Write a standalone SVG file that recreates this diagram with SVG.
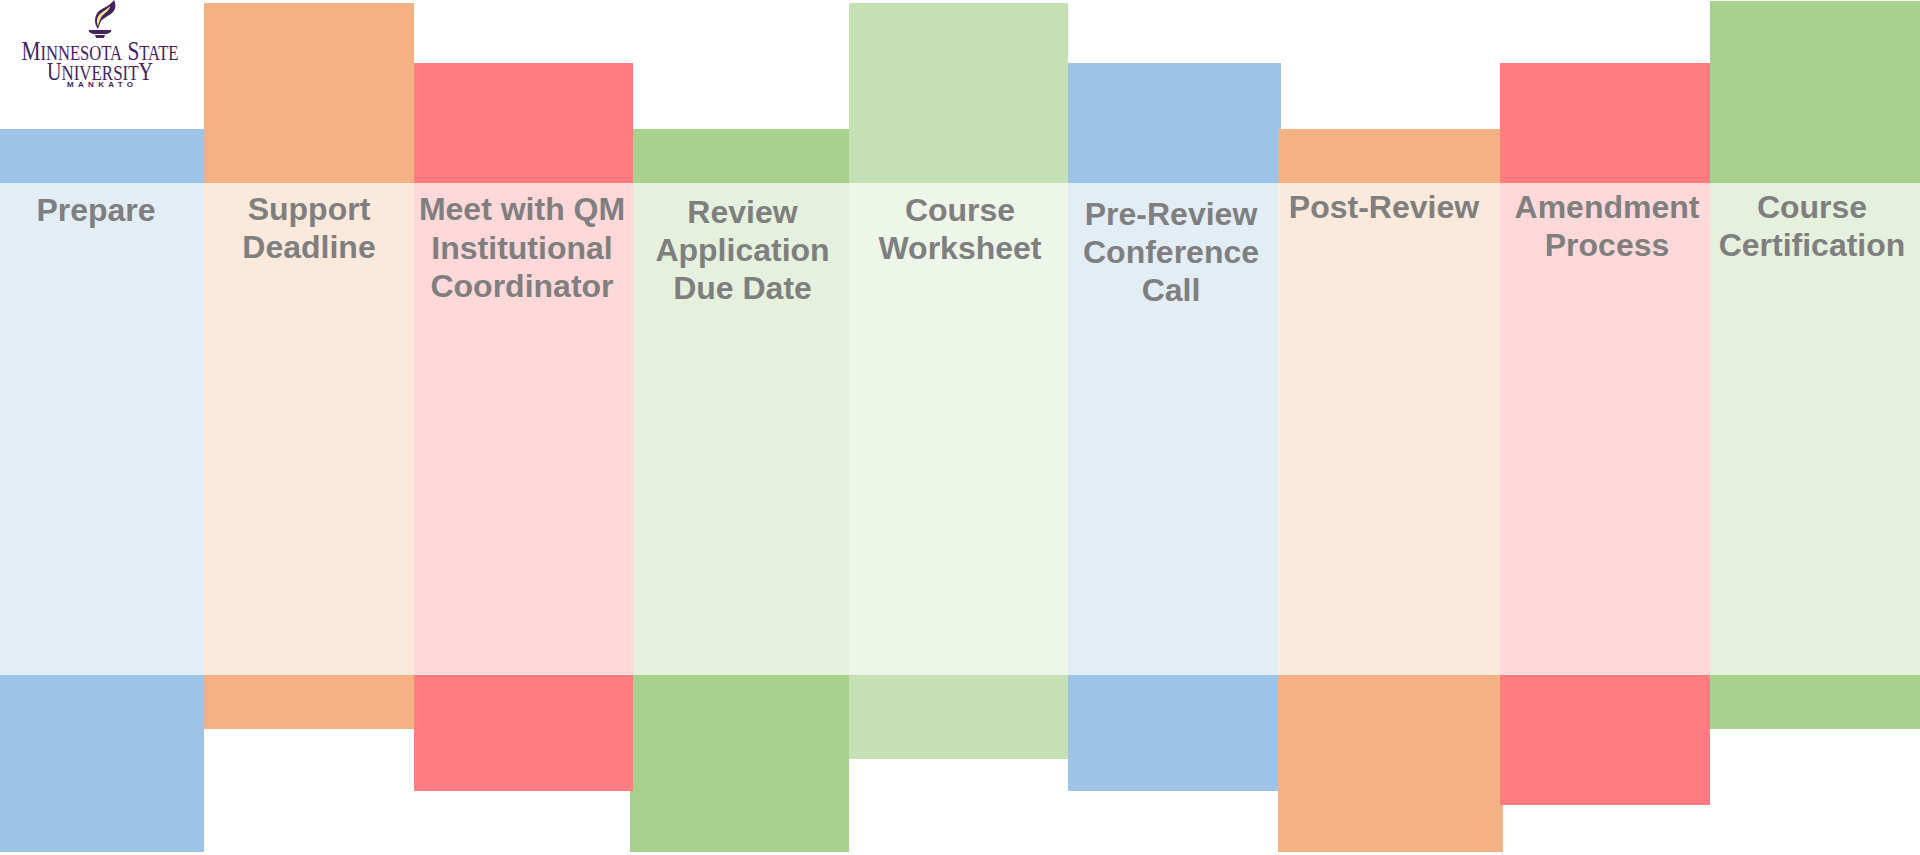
<svg xmlns="http://www.w3.org/2000/svg" width="1920" height="855" viewBox="0 0 1920 855">
<style>
.b{fill:#9DC3E6}.o{fill:#F4B183}.r{fill:#FF7C80}.g{fill:#A9D18E}.l{fill:#C5E0B4}
.bs{fill:#E3EDF6}.os{fill:#FBE9DC}.rs{fill:#FFD8D9}.gs{fill:#E6F1DD}.ls{fill:#EEF5E9}
.t{font-family:"Liberation Sans",Arial,sans-serif;font-weight:700;font-size:32px;fill:#7F7F7F;text-anchor:middle}
.lg{font-family:"Liberation Serif","Times New Roman",serif;fill:#44215F;text-anchor:middle}
</style>
<rect width="1920" height="855" fill="#FFFFFF"/>
<g id="logo">
<path d="M114 0C116 4 116 9 113 12C109 16 103 18 101 21C100 23 99 26 98 29C94 24 94 17 98 12C102 8 110 6 114 0Z" fill="#44215F"/>
<path d="M110 6C110 10 105 13 102 16C100 19 99 22 98 26C96 21 97 17 100 14C103 11 108 9 110 6Z" fill="#F5E98F"/>
<path d="M89 30H111V32L107 34H93L89 32Z M95 35H105L104 38H96Z" fill="#44215F"/>
<text class="lg" x="100" y="59.500" font-size="27" textLength="157" lengthAdjust="spacingAndGlyphs">M<tspan font-size="21">INNESOTA</tspan> S<tspan font-size="21">TATE</tspan></text>
<text class="lg" x="100" y="79.500" font-size="26" textLength="106" lengthAdjust="spacingAndGlyphs">U<tspan font-size="22">NIVERSIT</tspan>Y</text>
<text class="lg" x="100" y="87" font-size="8" font-weight="700" textLength="66" style="font-family:'Liberation Sans',sans-serif">MANKATO</text>
</g>
<g id="step-prepare">
<rect class="b" x="0" y="129" width="204" height="54"/>
<rect class="bs" x="0" y="183" width="204" height="492"/>
<rect class="b" x="0" y="675" width="204" height="177"/>
<text class="t" x="96" y="221">Prepare</text>
</g>
<g id="step-support-deadline">
<rect class="o" x="204" y="3" width="210" height="180"/>
<rect class="os" x="204" y="183" width="210" height="492"/>
<rect class="o" x="204" y="675" width="210" height="54"/>
<text class="t" x="309" y="220">Support</text>
<text class="t" x="309" y="258">Deadline</text>
</g>
<g id="step-review-application">
<rect class="g" x="633" y="129" width="216" height="54"/>
<rect class="gs" x="633" y="183" width="216" height="492"/>
<rect class="g" x="630" y="675" width="219" height="177"/>
<text class="t" x="742.500" y="223">Review</text>
<text class="t" x="742.500" y="261">Application</text>
<text class="t" x="742.500" y="299">Due Date</text>
</g>
<g id="step-meet-coordinator">
<rect class="r" x="414" y="63" width="219" height="120"/>
<rect class="rs" x="414" y="183" width="219" height="492"/>
<rect class="r" x="414" y="675" width="219" height="116"/>
<text class="t" x="522" y="220">Meet with QM</text>
<text class="t" x="522" y="259">Institutional</text>
<text class="t" x="522" y="297">Coordinator</text>
</g>
<g id="step-course-worksheet">
<rect class="l" x="849" y="3" width="219" height="180"/>
<rect class="ls" x="849" y="183" width="219" height="492"/>
<rect class="l" x="849" y="675" width="219" height="84"/>
<text class="t" x="960" y="221">Course</text>
<text class="t" x="960" y="259">Worksheet</text>
</g>
<g id="step-pre-review">
<rect class="b" x="1068" y="63" width="213" height="120"/>
<rect class="bs" x="1068" y="183" width="210.500" height="492"/>
<rect class="b" x="1068" y="675" width="210.500" height="116"/>
<text class="t" x="1171" y="225">Pre-Review</text>
<text class="t" x="1171" y="263">Conference</text>
<text class="t" x="1171" y="301">Call</text>
</g>
<g id="step-post-review">
<rect class="o" x="1278.500" y="129" width="221.500" height="54"/>
<rect class="os" x="1278.500" y="183" width="221.500" height="492"/>
<rect class="o" x="1278" y="675" width="225" height="177"/>
<text class="t" x="1384" y="218">Post-Review</text>
</g>
<g id="step-amendment">
<rect class="r" x="1500" y="63" width="210" height="120"/>
<rect class="rs" x="1500" y="183" width="210" height="492"/>
<rect class="r" x="1500" y="675" width="210" height="130"/>
<text class="t" x="1607" y="218">Amendment</text>
<text class="t" x="1607" y="256">Process</text>
</g>
<g id="step-certification">
<rect class="g" x="1710" y="1" width="210" height="182"/>
<rect class="gs" x="1710" y="183" width="210" height="492"/>
<rect class="g" x="1710" y="675" width="210" height="54"/>
<text class="t" x="1812" y="218">Course</text>
<text class="t" x="1812" y="256">Certification</text>
</g>
<g id="connectors"/>
</svg>
